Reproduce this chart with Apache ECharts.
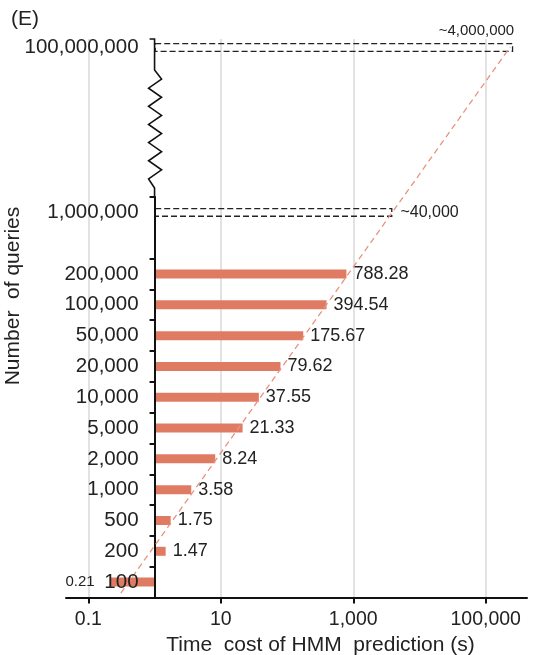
<!DOCTYPE html>
<html><head><meta charset="utf-8">
<script src="https://cdn.jsdelivr.net/npm/echarts@6/dist/echarts.min.js"></script>
<style>html,body{margin:0;padding:0;background:#fff}#c{width:539px;height:655px}</style>
</head><body><div id="c"></div>
<script>
// ---- data ----
const queryCounts = [100, 200, 500, 1000, 2000, 5000, 10000, 20000, 50000, 100000, 200000];
const hmmTimes = [0.21, 1.47, 1.75, 3.58, 8.24, 21.33, 37.55, 79.62, 175.67, 394.54, 788.28];
const extrapolatedCounts = [1000000, 100000000];
const extrapolatedLabels = ['~40,000', '~4,000,000'];
const extrapolatedDrawn = [3900, 260000];   // truncated (broken) extents as drawn
const xTickValues = [0.1, 10, 1000, 100000];
const xRange = [0.046, 420000];
const trendX = [0.31, 235000];
const trendY = [0.008, 0.986];

// ---- layout / style ----
const FONT = '"Liberation Sans", Arial, Helvetica, sans-serif';
const L = 66, R = 12, TOP = 39, BOTTOM = 57.5, MAIN_TOP = 197, TOP_ROW_H = 17;
const BAR = '#E07B63', TXT = '#222';
const fmt = v => v.toLocaleString('en-US');

const mainCats = queryCounts.map(fmt).concat(['', fmt(extrapolatedCounts[0])]);
const topCats = [fmt(extrapolatedCounts[1])];

const hiddenX = (i) => ({type: 'log', gridIndex: i, min: xRange[0], max: xRange[1], show: false,
  splitLine: {show: false}});

function buildOption(yOffset, graphicExtra) {
  const yCommon = {
    offset: yOffset, z: 5,
    axisLine: {show: true, lineStyle: {color: '#111', width: 2}},
    axisTick: {show: true, length: 5, lineStyle: {color: '#111', width: 2}},
    axisLabel: {interval: 0, margin: 16, fontSize: 20.5, color: TXT, fontFamily: FONT},
    splitLine: {show: false}
  };
  const g = (o) => Object.assign({left: L, right: R, containLabel: false, outerBoundsMode: 'none'}, o);
  return {
    animation: false,
    backgroundColor: '#fff',
    grid: [
      g({top: MAIN_TOP, bottom: BOTTOM}),
      g({top: TOP, height: TOP_ROW_H}),
      g({top: TOP, bottom: BOTTOM})
    ],
    xAxis: [
      hiddenX(0), hiddenX(1),
      {
        type: 'log', gridIndex: 2, min: xRange[0], max: xRange[1],
        axisLine: {show: true, lineStyle: {color: '#111', width: 2}},
        axisTick: {show: true, length: 6, customValues: xTickValues, lineStyle: {color: '#111', width: 2}},
        axisLabel: {customValues: xTickValues, margin: 12, fontSize: 19.5, color: TXT, fontFamily: FONT,
          formatter: v => fmt(v)},
        splitLine: {show: true, lineStyle: {color: '#d9d9d9', width: 1.5}},
        minorSplitLine: {show: false},
        name: 'Time  cost of HMM  prediction (s)',
        nameLocation: 'middle', nameGap: 30,
        nameTextStyle: {fontSize: 21, color: TXT, fontFamily: FONT, padding: [0, 0, 0, 48]}
      }
    ],
    yAxis: [
      Object.assign({}, yCommon, {
        type: 'category', gridIndex: 0, data: mainCats,
        axisTick: Object.assign({}, yCommon.axisTick, {
          interval: (idx, val) => val !== fmt(extrapolatedCounts[0])
        })
      }),
      Object.assign({}, yCommon, {
        type: 'category', gridIndex: 1, data: topCats,
        axisLine: {show: false}, axisTick: {show: false}
      }),
      {type: 'value', gridIndex: 2, min: 0, max: 1, show: false, splitLine: {show: false}}
    ],
    series: [
      {
        type: 'bar', name: 'HMM', xAxisIndex: 0, yAxisIndex: 0, barWidth: 9, barGap: '-100%',
        itemStyle: {color: BAR},
        label: {show: true, position: 'right', distance: 7, fontSize: 18, color: TXT, fontFamily: FONT,
          formatter: p => String(p.value)},
        data: hmmTimes.map(v => v < 1 ? {value: v, label: {position: 'left', distance: 15, fontSize: 15}} : v)
      },
      {
        type: 'bar', name: 'extrap1', xAxisIndex: 0, yAxisIndex: 0, barWidth: 9, barGap: '-100%',
        itemStyle: {color: 'rgba(0,0,0,0)', borderColor: '#222', borderWidth: 1.3, borderType: [6, 3]},
        label: {show: true, position: 'right', distance: 8, fontSize: 16, color: TXT, fontFamily: FONT,
          formatter: () => extrapolatedLabels[0]},
        data: new Array(queryCounts.length + 1).fill(null).concat([extrapolatedDrawn[0]])
      },
      {
        type: 'bar', name: 'extrap2', xAxisIndex: 1, yAxisIndex: 1, barWidth: 9,
        itemStyle: {color: 'rgba(0,0,0,0)', borderColor: '#222', borderWidth: 1.3, borderType: [6, 3]},
        label: {show: true, position: 'insideRight', distance: 0, offset: [1, -17], fontSize: 15,
          color: TXT, fontFamily: FONT, formatter: () => extrapolatedLabels[1]},
        data: [extrapolatedDrawn[1]]
      },
      {
        type: 'line', name: 'trend', xAxisIndex: 2, yAxisIndex: 2, symbol: 'none', z: 5,
        lineStyle: {color: '#E8937D', width: 1.3, type: [6, 4]},
        data: [[trendX[0], trendY[0]], [trendX[1], trendY[1]]]
      }
    ],
    graphic: [
      {type: 'text', left: 11, top: 9, style: {text: '(E)', fontSize: 21, fill: TXT, fontFamily: FONT}},
      {type: 'text', x: 13, y: 296, rotation: Math.PI / 2,
        style: {text: 'Number  of queries', fontSize: 21, fill: TXT, fontFamily: FONT, align: 'center', verticalAlign: 'middle'}}
    ].concat(graphicExtra || [])
  };
}

const chart = echarts.init(document.getElementById('c'));
chart.setOption(buildOption(0, []));
const ax = chart.convertToPixel({xAxisIndex: 0}, 1);
const yOffset = -(ax - L);

// broken-axis decoration between the top row and the main grid
const topRowBottom = TOP + TOP_ROW_H;
const zzTop = topRowBottom + 14, zzBottom = MAIN_TOP - 9;
const pts = [[ax, MAIN_TOP], [ax, zzBottom]];
const nSeg = 13, step = (zzBottom - zzTop) / nSeg;
for (let i = 1; i < nSeg; i++) {
  pts.push([ax + (i % 2 ? -6 : 7), zzBottom - i * step]);
}
pts.push([ax, zzTop], [ax, TOP], [ax - 5, TOP]);
const breakLine = {type: 'polyline', shape: {points: pts}, style: {stroke: '#111', lineWidth: 1.6, fill: null}, z: 10};

chart.setOption(buildOption(yOffset, [breakLine]), true);
</script></body></html>
